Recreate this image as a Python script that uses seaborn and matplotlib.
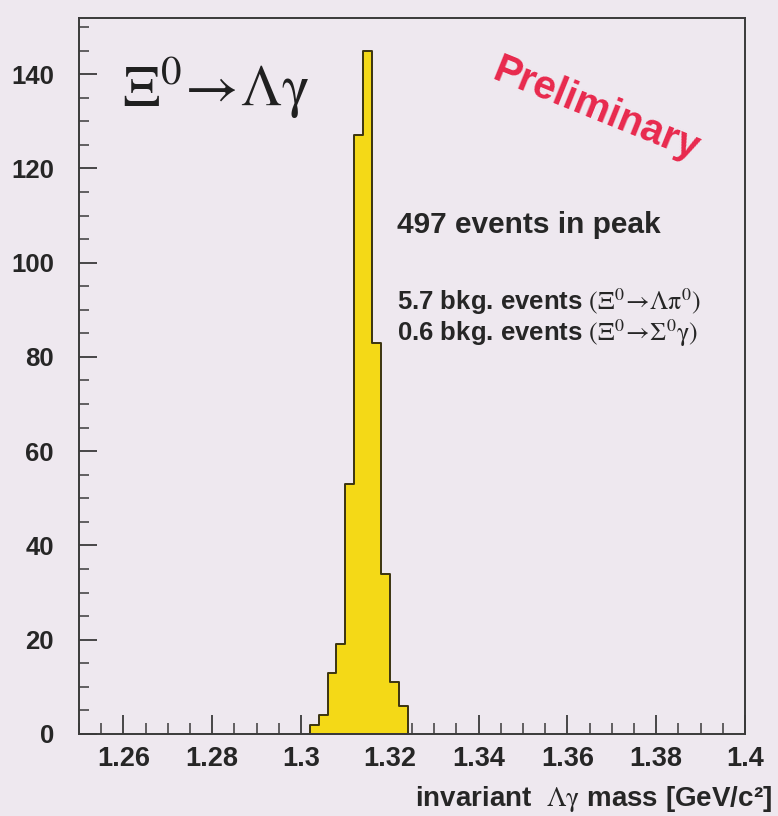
import numpy as np
import pandas as pd
import matplotlib
matplotlib.use("Agg")
import matplotlib.pyplot as plt
import seaborn as sns
from matplotlib.ticker import FixedLocator, MultipleLocator

# Invariant Lambda-gamma mass histogram (bin width 2 MeV)
mass_centers = [1.303, 1.305, 1.307, 1.309, 1.311, 1.313, 1.315, 1.317, 1.319, 1.321, 1.323]
counts = [2, 4, 13, 19, 53, 127, 145, 83, 34, 11, 6]
bin_edges = [1.302, 1.304, 1.306, 1.308, 1.310, 1.312, 1.314, 1.316, 1.318, 1.320, 1.322, 1.324]

x_ticks = [1.26, 1.28, 1.30, 1.32, 1.34, 1.36, 1.38, 1.40]
x_tick_labels = ["1.26", "1.28", "1.3", "1.32", "1.34", "1.36", "1.38", "1.4"]
y_ticks = [0, 20, 40, 60, 80, 100, 120, 140]
y_tick_labels = ["0", "20", "40", "60", "80", "100", "120", "140"]

sns.set_style("ticks")
plt.rcParams["font.family"] = ["Liberation Sans", "DejaVu Sans"]
plt.rcParams["mathtext.fontset"] = "stix"

bg = "#eee8ef"
frame = "#3a3a3a"
ink = "#262626"

fig = plt.figure(figsize=(7.78, 8.16), dpi=100, facecolor=bg)
ax = fig.add_axes([0.1015, 0.1005, 0.856, 0.878], facecolor=bg)

df = pd.DataFrame({"mass": mass_centers, "n": counts})
sns.histplot(data=df, x="mass", weights="n", bins=bin_edges, element="step",
             fill=True, color="#f4d917", alpha=1.0, edgecolor="#3b3410",
             linewidth=1.4, ax=ax)

ax.set_xlim(1.25, 1.40)
ax.set_ylim(0, 152)

for s in ax.spines.values():
    s.set_visible(True)
    s.set_color(frame)
    s.set_linewidth(1.4)

ax.xaxis.set_major_locator(FixedLocator(x_ticks))
ax.set_xticklabels(x_tick_labels)
ax.xaxis.set_minor_locator(MultipleLocator(0.005))
ax.yaxis.set_major_locator(FixedLocator(y_ticks))
ax.set_yticklabels(y_tick_labels)
ax.yaxis.set_minor_locator(MultipleLocator(5))

ax.tick_params(axis="x", which="major", direction="in", length=14, width=1.3,
               color=frame, labelsize=19.5, pad=9, top=False)
ax.tick_params(axis="x", which="minor", direction="in", length=8, width=1.1,
               color=frame, top=False)
ax.tick_params(axis="y", which="major", direction="in", length=13, width=1.3,
               color=frame, labelsize=18.5, pad=18, right=False)
ax.tick_params(axis="y", which="minor", direction="in", length=7, width=1.1,
               color=frame, right=False)
for lab in ax.get_xticklabels() + ax.get_yticklabels():
    lab.set_fontweight("bold")
    lab.set_color(ink)

ax.set_xlabel("")
ax.set_ylabel("")

# Decay label
ax.text(0.064, 0.902, r"$\Xi^{0}\!\rightarrow\!\Lambda\mathrm{\gamma}$", transform=ax.transAxes,
        fontsize=42, color="#202020", ha="left", va="center")

# Preliminary stamp
ax.text(0.776, 0.872, "Preliminary", transform=ax.transAxes, fontsize=29,
        fontweight="bold", color="#e8294d", rotation=-22, ha="center", va="center",
        rotation_mode="anchor")

# Event counts
ax.text(0.4775, 0.711, "497 events in peak", transform=ax.transAxes, fontsize=21.5,
        fontweight="bold", color=ink, ha="left", va="center")
ax.text(0.4775, 0.603, r"5.7 bkg. events $(\Xi^0\!\rightarrow\!\Lambda\mathrm{\pi}^0)$",
        transform=ax.transAxes, fontsize=18.5, fontweight="bold", color=ink,
        ha="left", va="center")
ax.text(0.4775, 0.559, r"0.6 bkg. events $(\Xi^0\!\rightarrow\!\Sigma^0\mathrm{\gamma})$",
        transform=ax.transAxes, fontsize=18.5, fontweight="bold", color=ink,
        ha="left", va="center")

fig.text(0.992, 0.012, r"invariant  $\Lambda\mathrm{\gamma}$ mass [GeV/c²]", fontsize=20,
         fontweight="bold", color=ink, ha="right", va="baseline")

fig.savefig("out.png", dpi=100, facecolor=bg)
